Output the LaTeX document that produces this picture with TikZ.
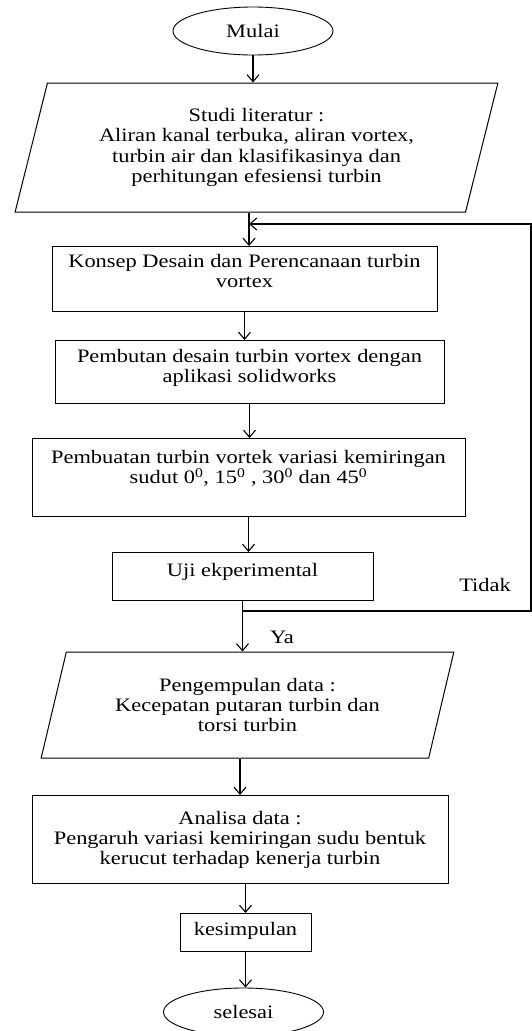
\documentclass[tikz,border=0pt]{standalone}
\usepackage{fontspec}
\setmainfont{Liberation Serif}[FakeStretch=1.18]
\usetikzlibrary{shapes.geometric,arrows.meta}
\tikzset{
  terminal/.style={draw, ellipse, line width=0.9pt, minimum width=160, minimum height=48, inner sep=0pt},
  box/.style={draw, rectangle, line width=1pt, anchor=north, inner ysep=0pt, align=center},
  io/.style={draw, trapezium, trapezium stretches=true, line width=1pt, align=center},
  arr/.style={-{Straight Barb[length=7pt,width=12pt]}, line width=1.1pt}
}
\begin{document}
\begin{tikzpicture}[x=1pt, y=-1pt, font=\fontsize{19}{20.2}\selectfont]
\useasboundingbox (0,0) rectangle (532,1031);
% flow from top to bottom
\node[terminal] (mulai) at (253,31) {Mulai};
\node[io, trapezium left angle=73.6, trapezium right angle=106.4, minimum width=484, minimum height=129] (studi) at (256.5,147.5) {Studi literatur :\\Aliran kanal terbuka, aliran vortex,\\turbin air dan klasifikasinya dan\\perhitungan efesiensi turbin};
\node[box, minimum width=385, text height=41pt, text depth=24pt] (konsep) at (244.5,246) {Konsep Desain dan Perencanaan turbin\\vortex};
\node[box, minimum width=389, text height=42pt, text depth=21pt] (desain) at (249.5,340) {Pembutan desain turbin vortex dengan\\aplikasi solidworks};
\node[box, minimum width=433, text height=45pt, text depth=33pt] (buat) at (248.5,438) {Pembuatan turbin vortek variasi kemiringan\\sudut 0\textsuperscript{0}, 15\textsuperscript{0} , 30\textsuperscript{0} dan 45\textsuperscript{0}};
\node[box, minimum width=261, text height=24pt, text depth=24pt] (uji) at (242.5,552) {Uji ekperimental};
\node[io, trapezium left angle=72.7, trapezium right angle=107.3, minimum width=413, minimum height=106] (data) at (247.5,705) {Pengempulan data :\\Kecepatan putaran turbin dan\\torsi turbin};
\node[box, minimum width=416, text height=69pt, text depth=19pt] (analisa) at (240,795) {Analisa data :\\Pengaruh variasi kemiringan sudu bentuk\\kerucut terhadap kenerja turbin};
\node[box, minimum width=131, text height=22pt, text depth=16pt] (simpul) at (245.5,913) {kesimpulan};
\node[terminal] (selesai) at (243.5,1012) {selesai};
\node (tidak) at (485,585) {Tidak};
\node (ya) at (282,637) {Ya};
\coordinate (join) at (249,224);
\coordinate (split) at (243,611);
\coordinate (edge) at (531,0);
% connectors
\draw[arr] (mulai.south) -- (mulai.south |- studi.north);
\draw[arr] (studi.south -| join) -- (join |- konsep.north);
\draw[arr] (konsep.south) -- (konsep.south |- desain.north);
\draw[arr] (desain.south) -- (desain.south |- buat.north);
\draw[arr] (buat.south) -- (buat.south |- uji.north);
\draw[arr] (uji.south) -- (uji.south |- data.north);
\draw[arr] (data.south -| analisa.north) -- (analisa.north);
\draw[arr] (analisa.south -| simpul.north) -- (simpul.north);
\draw[arr] (simpul.south) -- (simpul.south |- selesai.north);
\draw[arr] (split) -| (edge |- join) -- (join);
\end{tikzpicture}
\end{document}
